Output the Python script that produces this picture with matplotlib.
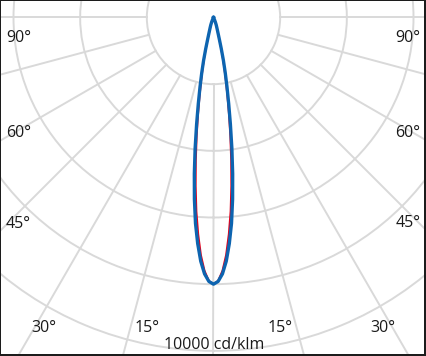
import numpy as np
import matplotlib.pyplot as plt
from matplotlib.patches import Rectangle

# luminous intensity (cd/klm) vs. angle from nadir (deg)
angles = [0, 1, 2, 3, 4, 5, 6, 7, 8, 9, 10, 11, 12, 13, 14, 15, 16, 18, 20, 22, 24, 27, 30]
c0_180 = [10000, 9900, 9620, 9150, 8500, 7750, 6850, 5900, 4950, 4050, 3280, 2650,
          2120, 1650, 1200, 850, 640, 420, 300, 190, 100, 30, 0]
c90_270 = [10000, 9870, 9500, 8920, 8150, 7300, 6350, 5400, 4500, 3680, 2960, 2380,
           1900, 1480, 1080, 770, 580, 380, 265, 170, 90, 25, 0]

rings = [2500, 5000, 7500, 10000, 12500, 15000]
spokes = list(range(-180, 180, 15))
scale_label = '10000 cd/klm'
angle_labels = ['90°', '60°', '45°', '30°', '15°', '15°', '30°', '45°', '60°', '90°']

W, H = 427, 356
grid_col = '#d9d9d9'
text_col = '#1a1a1a'

fig = plt.figure(figsize=(W / 100, H / 100), dpi=100)

# polar axes centred at the top middle of the picture
cx, cy, R = 213.5, H - 17.5, 400
ax = fig.add_axes([(cx - R) / W, (cy - R) / H, 2 * R / W, 2 * R / H], projection='polar')
ax.set_theta_zero_location('S')
ax.set_xticks([])
ax.set_yticks(rings)
ax.set_yticklabels([])
ax.yaxis.grid(True, color=grid_col, lw=1.4)
ax.spines['polar'].set_visible(False)

for a in spokes:
    ax.plot(np.radians([a, a]), [rings[0], rings[-1]], color=grid_col, lw=1.4, zorder=1)

th = np.radians(angles)
full_th = np.concatenate([-th[::-1], th[1:]])
red = np.concatenate([c90_270[::-1], c90_270[1:]])
blue = np.concatenate([c0_180[::-1], c0_180[1:]])
ax.plot(full_th, red, color='#e2001a', lw=1.2, zorder=3)
ax.plot(full_th, blue, color='#0d64b0', lw=2.4, zorder=4)
ax.set_ylim(0, rings[-1])

# labels (pixel positions: x centre, baseline)
label_pos = [(19, 42), (18.5, 137), (18.5, 228), (44, 332), (147.5, 332),
             (280, 332), (383, 332), (408, 227), (408, 137), (408, 42)]
for s, (x, y) in zip(angle_labels, label_pos):
    fig.text(x / W, 1 - y / H, s, ha='center', va='baseline', fontsize=11.5,
             family='Open Sans', color=text_col)
fig.text(214 / W, 1 - 349 / H, scale_label, ha='center', va='baseline', fontsize=11.5,
         family='Open Sans', color=text_col)

# dark frame round the picture
for (x0, y0, w, h) in [(0, 0, 1, H), (0, H - 1, W, 1), (W - 3, 0, 3, H), (0, 0, W, 2.5)]:
    fig.add_artist(Rectangle((x0 / W, y0 / H), w / W, h / H, transform=fig.transFigure,
                             color='#1c1c1c', lw=0))

plt.savefig('out.png', dpi=100)
